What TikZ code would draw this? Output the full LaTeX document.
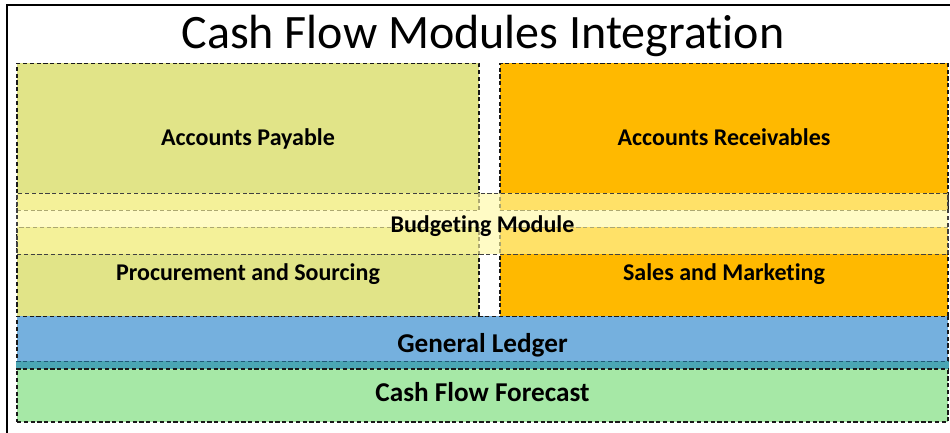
\documentclass[tikz,border=0pt]{standalone}
\usepackage{fontspec}
\setmainfont{Carlito}[Ligatures=NoCommon]
\usepackage{tikz}

\definecolor{apyellow}{HTML}{E1E488}
\definecolor{argold}{HTML}{FFB900}
\definecolor{budyellow}{HTML}{FFF9A4}
\definecolor{glblue}{HTML}{75B0DE}
\definecolor{cfgreen}{HTML}{A6E8A6}
\definecolor{overlap}{HTML}{4AA6B4}
\definecolor{edgeteal}{HTML}{1F5A78}

\tikzset{
  module/.style={draw=black!90, dashed, dash pattern=on 2.1pt off 1.3pt, line width=0.7pt,
    font=\bfseries\fontsize{12pt}{14pt}\selectfont, inner sep=0pt, text depth=0pt},
  halfbox/.style={module, minimum height=73.5pt},
  lowbox/.style={module, minimum height=44.5pt},
  wide/.style={module, minimum width=465.5pt},
  bigtext/.style={font=\bfseries\fontsize{13.6pt}{15pt}\selectfont}
}

\begin{document}
\begin{tikzpicture}[x=0.5pt,y=-0.5pt]
\useasboundingbox (0,0) rectangle (950,433);

% Frame and title
\draw[line width=0.8pt] (7,440) -- (7,5) -- (960,5);
\node (title) at (483,36) {\fontsize{24pt}{27pt}\selectfont Cash Flow Modules Integration};

% Left column
\node (ap) at (248,137) [halfbox, fill=apyellow, minimum width=231pt] {Accounts Payable};
\node (pr) at (248,272) [lowbox, fill=apyellow, minimum width=231pt] {Procurement and Sourcing};

% Right column
\node (ar) at (724,137) [halfbox, fill=argold, minimum width=224pt] {Accounts Receivables};
\node (sm) at (724,272) [lowbox, fill=argold, minimum width=224pt] {Sales and Marketing};

% Budgeting band
\node (bud) at (482.5,224) [wide, draw=black!75, fill=budyellow, fill opacity=0.64,
  text opacity=1, minimum height=30.5pt] {Budgeting Module};

% Ledger and forecast
\node (cf) at (482.5,392) [wide, bigtext, fill=cfgreen, minimum height=30pt] {Cash Flow Forecast};
\node (gl) at (482.5,342.5) [wide, bigtext, fill=glblue, minimum height=26pt] {General Ledger};
\fill[overlap] (cf.north west) rectangle (gl.south east);
\draw[edgeteal, dashed, dash pattern=on 2.1pt off 1.3pt, line width=0.7pt] (cf.north west) -- (cf.north east);
\draw[black!90, dashed, dash pattern=on 2.1pt off 1.3pt, line width=0.7pt] (gl.south west) -- (gl.south east);

\end{tikzpicture}
\end{document}
